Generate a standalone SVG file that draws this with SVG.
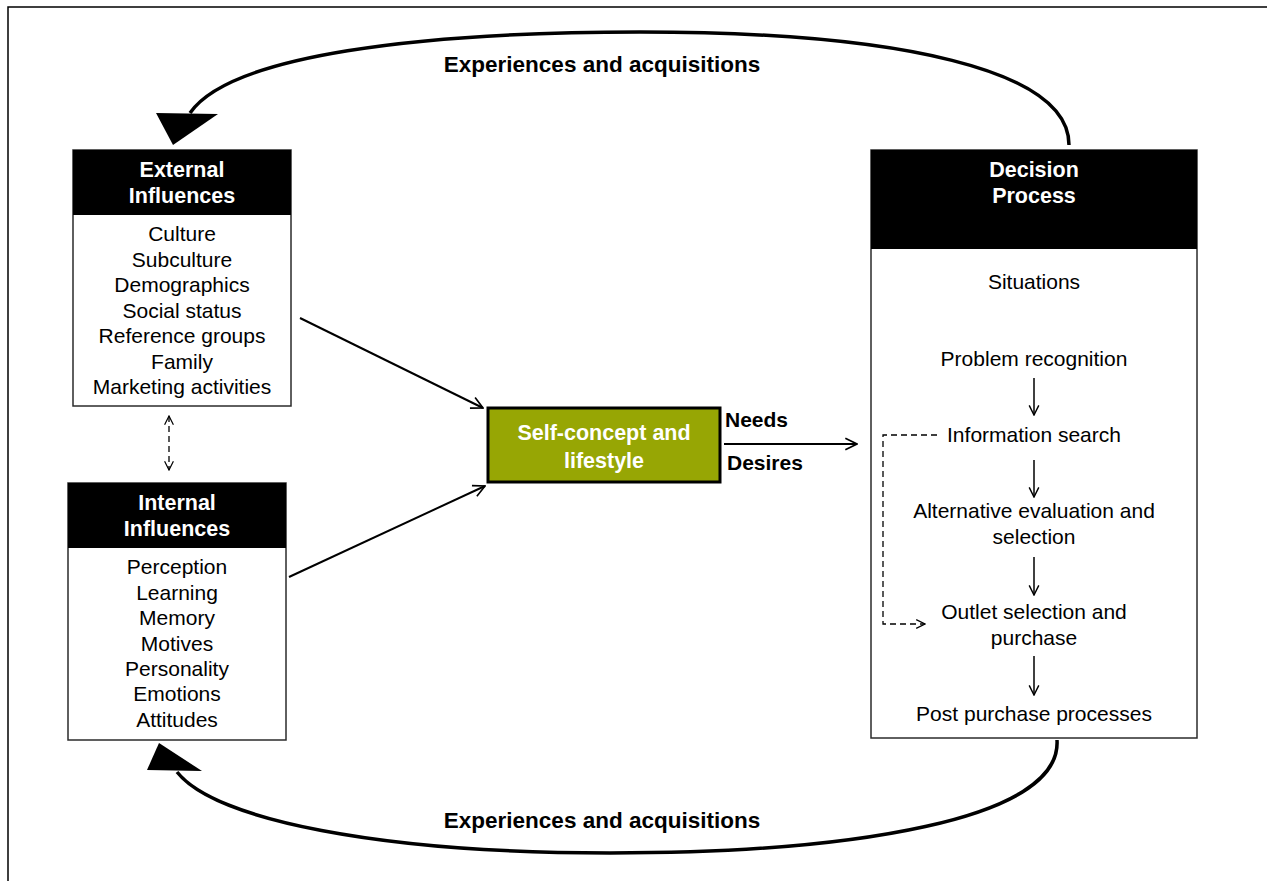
<svg xmlns="http://www.w3.org/2000/svg" width="1267" height="881" viewBox="0 0 1267 881">
  <style>
    .hdr { fill: #000; }
    .body { fill: #fff; stroke: #2b2b2b; stroke-width: 1.5; }
    .ht { font-family: "Liberation Sans", Arial, sans-serif; font-weight: bold; font-size: 21.5px; fill: #fff; text-anchor: middle; }
    .bt { font-family: "Liberation Sans", Arial, sans-serif; font-size: 21px; fill: #000; text-anchor: middle; }
    .lbl { font-family: "Liberation Sans", Arial, sans-serif; font-weight: bold; font-size: 21px; fill: #000; }
    .big { font-family: "Liberation Sans", Arial, sans-serif; font-weight: bold; font-size: 22.5px; fill: #000; text-anchor: middle; }
    .ln { fill: none; stroke: #000; stroke-width: 2; }
    .thin { fill: none; stroke: #000; stroke-width: 1.5; }
    .dash { fill: none; stroke: #000; stroke-width: 1.3; stroke-dasharray: 6 4; }
    .loop { fill: none; stroke: #000; stroke-width: 3.5; }
  </style>
  <defs>
    <marker id="open" viewBox="0 0 10 10" refX="9" refY="5" markerWidth="12" markerHeight="12" markerUnits="userSpaceOnUse" orient="auto">
      <path d="M1,1 L9,5 L1,9" fill="none" stroke="#000" stroke-width="1.2"/>
    </marker>
    <marker id="openL" viewBox="0 0 12 12" refX="11" refY="6" markerWidth="14" markerHeight="14" markerUnits="userSpaceOnUse" orient="auto">
      <path d="M1,1 L11,6 L1,11" fill="none" stroke="#000" stroke-width="1.4"/>
    </marker>
    <marker id="openD" viewBox="0 0 10 10" refX="9" refY="5" markerWidth="11" markerHeight="11" markerUnits="userSpaceOnUse" orient="auto-start-reverse">
      <path d="M1,1 L9,5 L1,9" fill="none" stroke="#000" stroke-width="1.1"/>
    </marker>
  </defs>

  <!-- page frame -->
  <path d="M8,881 L8,7 L1267,7" fill="none" stroke="#000" stroke-width="1.5"/>

  <!-- external influences -->
  <g id="external">
    <rect class="body" x="73" y="150" width="218" height="256"/>
    <rect class="hdr" x="73" y="150" width="218" height="65"/>
    <text class="ht" x="182" y="177">External</text>
    <text class="ht" x="182" y="203">Influences</text>
    <text class="bt" x="182" y="241">Culture</text>
    <text class="bt" x="182" y="267">Subculture</text>
    <text class="bt" x="182" y="292">Demographics</text>
    <text class="bt" x="182" y="318">Social status</text>
    <text class="bt" x="182" y="343">Reference groups</text>
    <text class="bt" x="182" y="369">Family</text>
    <text class="bt" x="182" y="394">Marketing activities</text>
  </g>

  <!-- internal influences -->
  <g id="internal">
    <rect class="body" x="68" y="483" width="218" height="257"/>
    <rect class="hdr" x="68" y="483" width="218" height="65"/>
    <text class="ht" x="177" y="510">Internal</text>
    <text class="ht" x="177" y="536">Influences</text>
    <text class="bt" x="177" y="574">Perception</text>
    <text class="bt" x="177" y="600">Learning</text>
    <text class="bt" x="177" y="625">Memory</text>
    <text class="bt" x="177" y="651">Motives</text>
    <text class="bt" x="177" y="676">Personality</text>
    <text class="bt" x="177" y="701">Emotions</text>
    <text class="bt" x="177" y="727">Attitudes</text>
  </g>

  <!-- self-concept -->
  <g id="self-concept">
    <rect x="488" y="408" width="232" height="74" fill="#97a604" stroke="#000" stroke-width="3"/>
    <text class="ht" x="604" y="440" font-size="22.5">Self-concept and</text>
    <text class="ht" x="604" y="468" font-size="22.5">lifestyle</text>
  </g>

  <!-- decision process -->
  <g id="decision">
    <rect class="body" x="871" y="150" width="326" height="588"/>
    <rect class="hdr" x="871" y="150" width="326" height="99"/>
    <text class="ht" x="1034" y="177">Decision</text>
    <text class="ht" x="1034" y="203">Process</text>
    <text class="bt" x="1034" y="289">Situations</text>
    <text class="bt" x="1034" y="366">Problem recognition</text>
    <text class="bt" x="1034" y="442">Information search</text>
    <text class="bt" x="1034" y="518">Alternative evaluation and</text>
    <text class="bt" x="1034" y="544">selection</text>
    <text class="bt" x="1034" y="619">Outlet selection and</text>
    <text class="bt" x="1034" y="645">purchase</text>
    <text class="bt" x="1034" y="721">Post purchase processes</text>
  </g>

  <!-- connectors -->
  <g id="connectors">
    <!-- feedback loops -->
    <path class="loop" d="M1069,145 C1069,70 900,32 640,32 C420,32 230,55 190,113"/>
    <polygon points="156,113 218,114 173,145" fill="#000"/>
    <path class="loop" d="M1057,740 C1062,820 850,853 610,853 C380,853 215,820 177,772"/>
    <polygon points="159,743 147,770 202,771" fill="#000"/>

    <!-- influences to self-concept -->
    <path class="ln" d="M300,318 L483,408" marker-end="url(#openL)"/>
    <path class="ln" d="M289,577 L485,486" marker-end="url(#openL)"/>

    <!-- external / internal link -->
    <path class="dash" d="M169,416 L169,470" marker-start="url(#openD)" marker-end="url(#openD)"/>

    <!-- needs / desires -->
    <path class="ln" d="M724,444 L857,444" marker-end="url(#openL)"/>

    <!-- decision steps -->
    <path class="thin" d="M1034,378 L1034,415" marker-end="url(#open)"/>
    <path class="thin" d="M1034,460 L1034,497" marker-end="url(#open)"/>
    <path class="thin" d="M1034,557 L1034,595" marker-end="url(#open)"/>
    <path class="thin" d="M1034,656 L1034,695" marker-end="url(#open)"/>

    <!-- search shortcut to purchase -->
    <path class="dash" d="M937,435 L883,435 L883,624 L925,624" marker-end="url(#openD)"/>
  </g>

  <!-- labels on loops and needs arrow -->
  <text class="big" x="602" y="72">Experiences and acquisitions</text>
  <text class="big" x="602" y="828">Experiences and acquisitions</text>
  <text class="lbl" x="725" y="427">Needs</text>
  <text class="lbl" x="727" y="470">Desires</text>
</svg>
